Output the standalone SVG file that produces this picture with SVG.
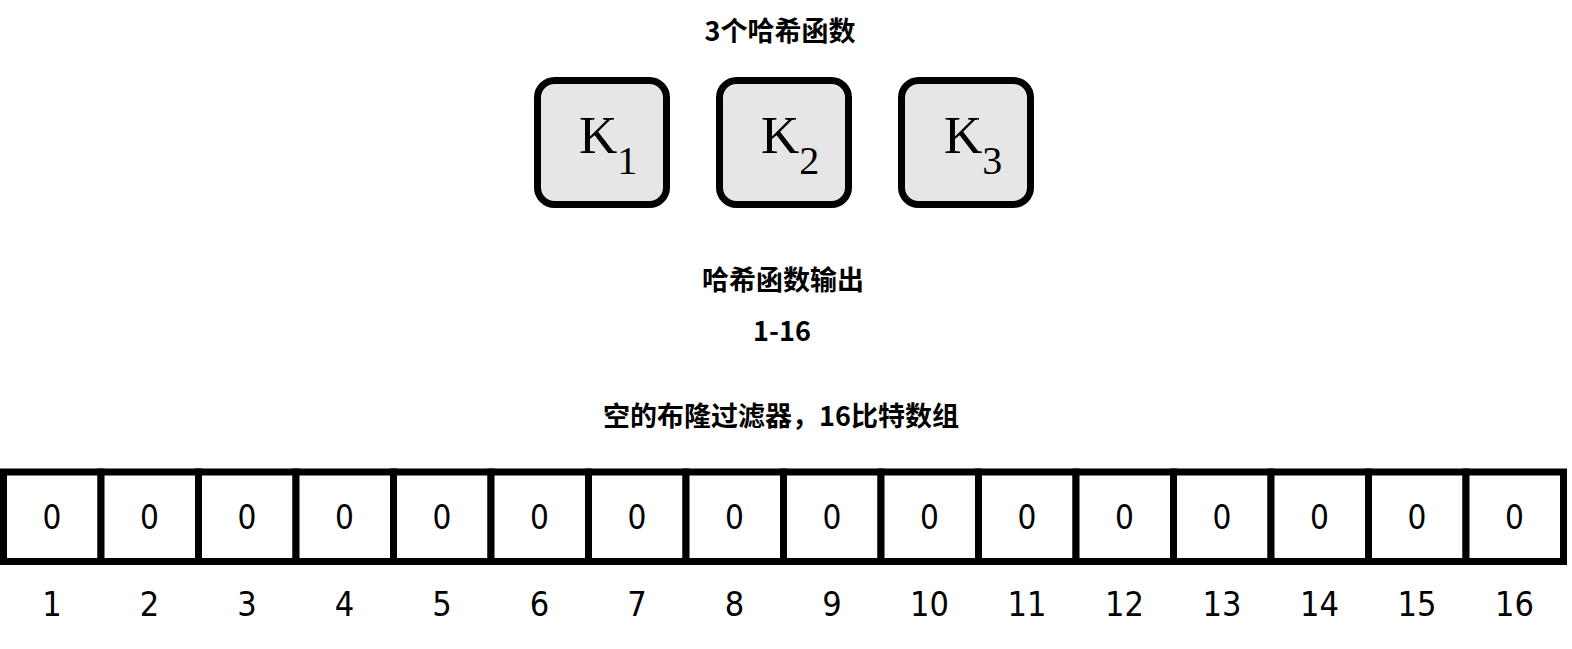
<svg xmlns="http://www.w3.org/2000/svg" width="1572" height="649" viewBox="0 0 1572 649">
<style>
.title{font-family:"Noto Sans CJK SC","Noto Sans",sans-serif;font-weight:bold;font-size:27px;text-anchor:middle;fill:#000}
.key rect{fill:#e6e6e6;stroke:#000;stroke-width:7}
.kt{font-family:"Liberation Serif",serif;font-size:53px;fill:#000}
.ks{font-size:40px}
.cell{fill:#fff;stroke:#000;stroke-width:7}
.bit{font-family:"DejaVu Sans Condensed","DejaVu Sans",sans-serif;font-stretch:condensed;font-size:33px;text-anchor:middle;fill:#000}
.idx{font-family:"DejaVu Sans Condensed","DejaVu Sans",sans-serif;font-stretch:condensed;font-size:34px;text-anchor:middle;fill:#000}
</style>
<rect width="1572" height="649" fill="#fff"/>
<text class="title" x="780" y="41">3个哈希函数</text>
<g id="k1" class="key"><rect x="537.5" y="80.5" width="129" height="124" rx="17"/><text class="kt" x="579" y="153">K<tspan class="ks" dy="21">1</tspan></text></g>
<g id="k2" class="key"><rect x="719.5" y="80.5" width="129" height="124" rx="17"/><text class="kt" x="761" y="153">K<tspan class="ks" dy="21">2</tspan></text></g>
<g id="k3" class="key"><rect x="901.5" y="80.5" width="129" height="124" rx="17"/><text class="kt" x="944" y="153">K<tspan class="ks" dy="21">3</tspan></text></g>
<text class="title" x="783" y="290">哈希函数输出</text>
<text class="title" x="782" y="341">1-16</text>
<text class="title" x="781" y="426">空的布隆过滤器，16比特数组</text>
<g id="connectors"></g>
<g id="array">
<rect class="cell" x="3.5" y="472" width="97.5" height="89.5"/>
<rect class="cell" x="101" y="472" width="97.5" height="89.5"/>
<rect class="cell" x="198.5" y="472" width="97.5" height="89.5"/>
<rect class="cell" x="296" y="472" width="97.5" height="89.5"/>
<rect class="cell" x="393.5" y="472" width="97.5" height="89.5"/>
<rect class="cell" x="491" y="472" width="97.5" height="89.5"/>
<rect class="cell" x="588.5" y="472" width="97.5" height="89.5"/>
<rect class="cell" x="686" y="472" width="97.5" height="89.5"/>
<rect class="cell" x="783.5" y="472" width="97.5" height="89.5"/>
<rect class="cell" x="881" y="472" width="97.5" height="89.5"/>
<rect class="cell" x="978.5" y="472" width="97.5" height="89.5"/>
<rect class="cell" x="1076" y="472" width="97.5" height="89.5"/>
<rect class="cell" x="1173.5" y="472" width="97.5" height="89.5"/>
<rect class="cell" x="1271" y="472" width="97.5" height="89.5"/>
<rect class="cell" x="1368.5" y="472" width="97.5" height="89.5"/>
<rect class="cell" x="1466" y="472" width="97.5" height="89.5"/>
<text class="bit" y="529"><tspan x="52">0</tspan><tspan x="149.5">0</tspan><tspan x="247">0</tspan><tspan x="344.5">0</tspan><tspan x="442">0</tspan><tspan x="539.5">0</tspan><tspan x="637">0</tspan><tspan x="734.5">0</tspan><tspan x="832">0</tspan><tspan x="929.5">0</tspan><tspan x="1027">0</tspan><tspan x="1124.5">0</tspan><tspan x="1222">0</tspan><tspan x="1319.5">0</tspan><tspan x="1417">0</tspan><tspan x="1514.5">0</tspan></text>
<text class="idx" y="616"><tspan x="52">1</tspan><tspan x="149.5">2</tspan><tspan x="247">3</tspan><tspan x="344.5">4</tspan><tspan x="442">5</tspan><tspan x="539.5">6</tspan><tspan x="637">7</tspan><tspan x="734.5">8</tspan><tspan x="832">9</tspan><tspan x="929.5">10</tspan><tspan x="1027">11</tspan><tspan x="1124.5">12</tspan><tspan x="1222">13</tspan><tspan x="1319.5">14</tspan><tspan x="1417">15</tspan><tspan x="1514.5">16</tspan></text>
</g>
</svg>
